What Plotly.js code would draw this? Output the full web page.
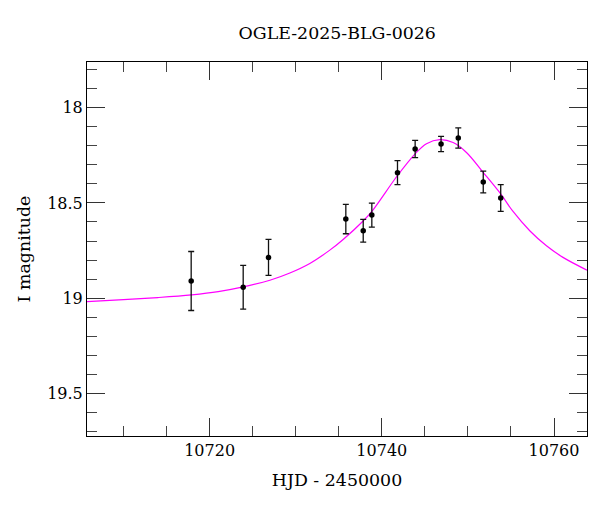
<!DOCTYPE html>
<html>
<head>
<meta charset="utf-8">
<script src="https://cdn.plot.ly/plotly-3.0.1.min.js"></script>
<style>html,body{margin:0;padding:0;background:#fff;}#chart{width:600px;height:512px;}</style>
</head>
<body>
<div id="chart"></div>
<script>
// Observations
const obsHJD = [10717.86, 10723.90, 10726.84, 10735.82, 10737.84, 10738.84, 10741.82, 10743.87, 10746.88, 10748.88, 10751.78, 10753.81];
const obsMag = [18.910, 18.943, 18.786, 18.585, 18.646, 18.564, 18.341, 18.217, 18.191, 18.159, 18.390, 18.474];
const obsErr = [0.155, 0.115, 0.095, 0.077, 0.060, 0.063, 0.063, 0.045, 0.040, 0.053, 0.057, 0.070];

// Model curve
const modelHJD = [10705.76, 10710.0, 10714.0, 10717.91, 10721.0, 10723.90, 10727.0, 10729.32, 10731.64, 10733.96, 10735.51, 10737.83, 10738.87, 10741.82, 10743.87, 10745.19, 10746.73, 10748.28, 10749.83, 10751.76, 10753.81, 10755.24, 10757.18, 10759.12, 10761.04, 10763.83];
const modelMag = [19.018, 19.008, 18.997, 18.983, 18.966, 18.941, 18.906, 18.868, 18.818, 18.748, 18.692, 18.595, 18.543, 18.356, 18.242, 18.189, 18.168, 18.183, 18.235, 18.339, 18.453, 18.545, 18.646, 18.725, 18.786, 18.853];

const titleText = 'OGLE-2025-BLG-0026';
const xTitle = 'HJD - 2450000';
const yTitle = 'I magnitude';
const yTickVals = [18, 18.5, 19, 19.5];
const yTickText = ['18', '18.5', '19', '19.5'];

const FONT = 'DejaVu Serif, Liberation Serif, serif';

const traces = [
  {
    x: modelHJD, y: modelMag, type: 'scatter', mode: 'lines',
    line: {color: '#ff00ff', width: 1.2, shape: 'spline', smoothing: 1.0},
    hoverinfo: 'skip', showlegend: false
  },
  {
    x: obsHJD, y: obsMag, type: 'scatter', mode: 'markers',
    marker: {color: '#000', size: 5.5},
    error_y: {type: 'data', array: obsErr, visible: true, color: '#111', thickness: 1.3, width: 3},
    showlegend: false
  }
];

const layout = {
  width: 600, height: 512,
  margin: {l: 87, r: 13, t: 62, b: 76},
  paper_bgcolor: '#fff', plot_bgcolor: '#fff',
  font: {family: FONT, size: 16, color: '#000'},
  title: {text: titleText, x: 0.562, xanchor: 'center', y: 0.935, yanchor: 'middle', font: {family: FONT, size: 17.4, color: '#000'}},
  xaxis: {
    range: [10705.76, 10763.83],
    tickmode: 'linear', tick0: 10720, dtick: 20, tickformat: 'd',
    ticks: 'inside', ticklen: 18, tickwidth: 1, tickcolor: '#333',
    minor: {tickmode: 'linear', dtick: 5, ticks: 'inside', ticklen: 10, tickwidth: 1, tickcolor: '#444', showgrid: false},
    showline: true, linecolor: '#000', linewidth: 1, mirror: 'allticks',
    showgrid: false, zeroline: false,
    tickfont: {family: FONT, size: 16, color: '#000'},
    title: {text: xTitle, font: {family: FONT, size: 17.4, color: '#000'}, standoff: 14}
  },
  yaxis: {
    range: [19.724, 17.76],
    tickmode: 'array', tickvals: yTickVals, ticktext: yTickText,
    ticks: 'inside', ticklen: 18, tickwidth: 1, tickcolor: '#333',
    minor: {tickmode: 'linear', tick0: 18, dtick: 0.1, ticks: 'inside', ticklen: 10, tickwidth: 1, tickcolor: '#444', showgrid: false},
    showline: true, linecolor: '#000', linewidth: 1, mirror: 'allticks',
    showgrid: false, zeroline: false,
    tickfont: {family: FONT, size: 16, color: '#000'},
    title: {text: yTitle, font: {family: FONT, size: 17.4, color: '#000'}, standoff: 12}
  }
};

Plotly.newPlot('chart', traces, layout, {displayModeBar: false, staticPlot: true});
</script>
</body>
</html>
